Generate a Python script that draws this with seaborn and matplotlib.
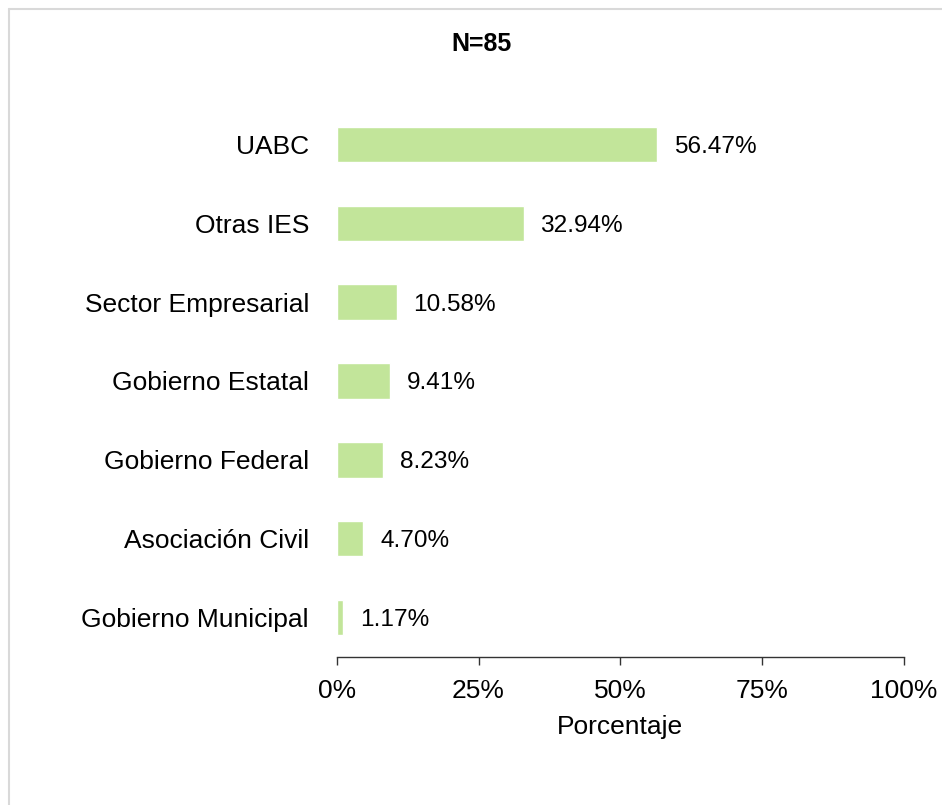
import matplotlib
matplotlib.use("Agg")
import matplotlib.pyplot as plt
import seaborn as sns
import pandas as pd
from matplotlib.lines import Line2D

# ============================================
# Data
# ============================================
categories = ["UABC", "Otras IES", "Sector Empresarial", "Gobierno Estatal",
              "Gobierno Federal", "Asociación Civil", "Gobierno Municipal"]
percentages = [56.47, 32.94, 10.58, 9.41, 8.23, 4.70, 1.17]
value_labels = ["56.47%", "32.94%", "10.58%", "9.41%", "8.23%", "4.70%", "1.17%"]
x_ticks = [0, 25, 50, 75, 100]
x_tick_labels = ["0%", "25%", "50%", "75%", "100%"]
title = "N=85"

BAR_COLOR = "#c2e59a"

df = pd.DataFrame({"categoria": categories, "porcentaje": percentages})

# ============================================
# Figure
# ============================================
sns.set_style("white")
plt.rcParams["font.family"] = ["Liberation Sans", "DejaVu Sans"]
plt.rcParams["text.color"] = "black"
plt.rcParams["axes.labelcolor"] = "black"
plt.rcParams["xtick.color"] = "black"
plt.rcParams["ytick.color"] = "black"

fig = plt.figure(figsize=(9.42, 8.05), dpi=100)
ax = fig.add_axes([0.3574, 0.1835, 0.6023, 0.6865])

sns.barplot(data=df, x="porcentaje", y="categoria", orient="h",
            color=BAR_COLOR, saturation=1, width=0.45, ax=ax)

# value labels at bar ends
for i, (v, lab) in enumerate(zip(percentages, value_labels)):
    ax.annotate(lab, xy=(v, i), xytext=(12, 0), textcoords="offset points",
                ha="left", va="center_baseline", fontsize=17.6, color="black")

ax.set_xlim(0, 100)
ax.set_ylim(len(categories) - 0.495, -0.505)
ax.set_xticks(x_ticks)
ax.set_xticklabels(x_tick_labels, fontsize=19)
ax.tick_params(axis="x", length=6, width=1, color="#333333", pad=9.5,
               bottom=True)
ax.tick_params(axis="y", length=0, pad=20, labelsize=19)
for t in ax.get_yticklabels():
    t.set_verticalalignment("center_baseline")
ax.set_xlabel("Porcentaje", fontsize=19, labelpad=9)
ax.set_ylabel("")

for s in ["top", "right", "left"]:
    ax.spines[s].set_visible(False)
ax.spines["bottom"].set_color("#333333")
ax.spines["bottom"].set_linewidth(1)

fig.text(481.7 / 942, 1 - 44 / 805, title, ha="center", va="center",
         fontsize=18, fontweight="bold")

# light grey frame on top and left edges
fig.add_artist(Line2D([8.5 / 942, 8.5 / 942], [0, 1 - 9.3 / 805],
                      transform=fig.transFigure, color="#d9d9d9", lw=1.5))
fig.add_artist(Line2D([8.5 / 942, 1], [1 - 9.3 / 805, 1 - 9.3 / 805],
                      transform=fig.transFigure, color="#d9d9d9", lw=1.5))

fig.savefig("out.png", dpi=100)
